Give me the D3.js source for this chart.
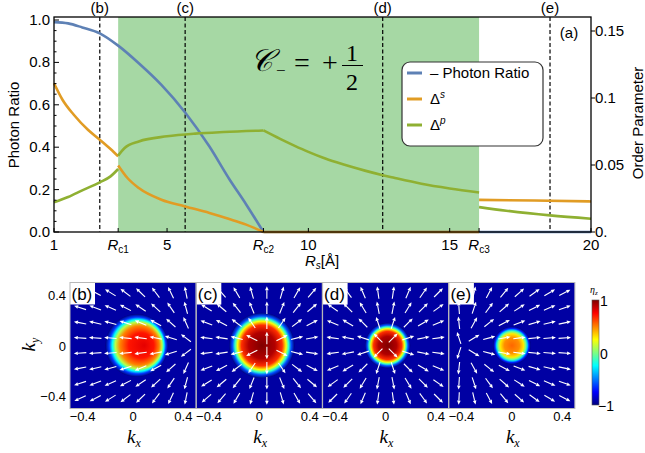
<!DOCTYPE html>
<html lang="en">
<head>
  <meta charset="UTF-8">
  <title>Photon ratio and order parameter</title>
  <script src="https://d3js.org/d3.v7.min.js"></script>
  <style>
    body { margin: 0; background: #fff; }
    svg { display: block; font-family: "Liberation Sans", Arial, sans-serif; }
  </style>
</head>
<body>
  <div id="chart"></div>
  <script>
    // ---- top panel data (x = R_s in Å) ----
    const rcValues = [3.27, 8.41, 16.04];
    const rcNames = ["c1", "c2", "c3"];
    const panelMarks = [2.62, 5.64, 12.63, 18.55];
    const panelNames = ["(b)", "(c)", "(d)", "(e)"];
    const xTickValues = [1, 3.27, 5, 8.41, 10, 15, 16.04, 20];
    const xTickLabels = ["1", "Rc1", "5", "Rc2", "10", "15", "Rc3", "20"];
    const leftTicks = [0, 0.2, 0.4, 0.6, 0.8, 1.0];
    const rightTicks = [0, 0.05, 0.1, 0.15];
    const rightTickLabels = ["0.", "0.05", "0.1", "0.15"];

    // photon ratio (left axis)
    const photonRatio = [
      [[1, 0.99], [1.5, 0.984], [2, 0.965], [2.62, 0.937], [3.27, 0.879], [4, 0.796], [4.8, 0.694],
       [5.64, 0.564], [6.5, 0.403], [7.2, 0.25], [7.8, 0.13], [8.41, 0]],
      [[8.41, 0], [20, 0]]
    ];
    // Δ^s (right axis)
    const deltaS = [
      [[1, 0.111], [1.3, 0.0987], [1.7, 0.0875], [2.2, 0.0763], [2.62, 0.0689], [3.0, 0.0619], [3.27, 0.0564]],
      [[3.27, 0.0497], [3.6, 0.0403], [4, 0.0328], [4.8, 0.0241], [5.64, 0.0191], [6.5, 0.0142],
       [7.2, 0.0097], [7.8, 0.0055], [8.41, 0]],
      [[8.41, 0], [16.04, 0]],
      [[16.04, 0.024], [18, 0.0235], [20, 0.0228]]
    ];
    // Δ^p (right axis)
    const deltaP = [
      [[1, 0.0222], [1.5, 0.0261], [2, 0.0311], [2.62, 0.0371], [3, 0.0415], [3.27, 0.047]],
      [[3.27, 0.057], [3.5, 0.0627], [4, 0.0676], [5, 0.0714], [6, 0.0734], [7, 0.0746], [8.41, 0.0758]],
      [[8.41, 0.0758], [9, 0.0695], [9.5, 0.0645], [10, 0.0598], [10.5, 0.0556], [11, 0.052], [12, 0.0458],
       [12.63, 0.0424], [13, 0.0406], [14, 0.036], [15, 0.0325], [16.04, 0.0295]],
      [[16.04, 0.0186], [17, 0.0159], [18.55, 0.0124], [20, 0.0099]]
    ];

    // ---- bottom panels: eta_z texture ----
    const blobCenterX = [0.03, 0.02, 0.016, 0.0];
    const blobCenterY = [0, 0, 0, 0];
    const blobRadius = [0.25, 0.26, 0.18, 0.15];
    const blobPeak = [0.8, 1.0, 1.0, 0.55];
    const kTicks = [-0.4, 0, 0.4];
    const arrowGrid = [-0.42, -0.30, -0.18, -0.06, 0.06, 0.18, 0.30, 0.42];
    // arrow directions in degrees (rows from top ky=0.42 down to ky=-0.42)
    const arrowsB = [
      [156, 152, 148, 143, 136, 127, 116, 101],
      [162, 159, 156, 152, 146, 137, 124, 105],
      [169, 167, 165, 162, 158, 151, 138, 114],
      [176, 176, 175, 174, 172, 169, 163, 143],
      [184, 184, 185, 186, 188, 191, 197, 217],
      [191, 193, 195, 198, 202, 209, 222, 246],
      [198, 201, 204, 208, 214, 223, 236, 255],
      [205, 208, 212, 217, 224, 233, 245, 259]
    ];
    const arrowsC = [
      [139, 131, 120, 106, 90, 74, 60, 49],
      [148, 140, 129, 112, 90, 68, 51, 40],
      [159, 153, 143, 124, 90, 56, 37, 27],
      [173, 171, 166, 153, 90, 27, 14, 10],
      [187, 189, 194, 207, 270, 333, 346, 351],
      [201, 207, 217, 236, 270, 304, 323, 333],
      [212, 220, 231, 248, 270, 292, 309, 320],
      [221, 229, 240, 254, 270, 286, 300, 311]
    ];
    const arrowsD = [
      [135, 126, 113, 98, 82, 67, 55, 45],
      [145, 135, 121, 101, 79, 59, 45, 36],
      [157, 149, 135, 108, 72, 45, 31, 23],
      [172, 169, 162, 135, 45, 18, 11, 8],
      [188, 191, 198, 225, 315, 342, 349, 352],
      [203, 211, 225, 252, 288, 315, 329, 337],
      [216, 225, 239, 259, 281, 301, 315, 325],
      [225, 235, 247, 262, 278, 293, 306, 315]
    ];
    const arrowsE = [
      [93, 77, 62, 51, 42, 36, 31, 27],
      [94, 72, 54, 41, 33, 27, 23, 20],
      [96, 61, 39, 28, 21, 17, 14, 12],
      [108, 31, 15, 10, 7, 6, 5, 4],
      [252, 329, 345, 350, 353, 354, 355, 356],
      [264, 299, 321, 332, 339, 343, 346, 348],
      [266, 288, 306, 319, 327, 333, 337, 340],
      [267, 283, 298, 309, 318, 324, 329, 333]
    ];
    const arrowSets = [arrowsB, arrowsC, arrowsD, arrowsE];
    const colorbarTicks = [1, 0, -1];
    const colorbarLabels = ["1", "0", "\u22121"];

    const blue = "#5E81B5", orange = "#E19C24", green = "#8FB032";

    const svg = d3.select("#chart").append("svg")
      .attr("width", 645).attr("height", 453);
    const defs = svg.append("defs");

    // ================= top chart =================
    const plot = { left: 54, right: 591, top: 17, bottom: 232 };
    const x = d3.scaleLinear().domain([1, 20]).range([plot.left, plot.right]);
    const yLeft = d3.scaleLinear().domain([0, 1]).range([plot.bottom, 20]);
    const yRight = d3.scaleLinear().domain([0, 0.15]).range([plot.bottom, 31]);

    // topological phase shading
    svg.append("rect")
      .attr("x", x(rcValues[0])).attr("y", plot.top)
      .attr("width", x(rcValues[2]) - x(rcValues[0]))
      .attr("height", plot.bottom - plot.top)
      .attr("fill", "#a6d8a4");

    // dashed markers
    svg.selectAll(".mark").data(panelMarks).enter().append("line")
      .attr("x1", d => x(d)).attr("x2", d => x(d))
      .attr("y1", plot.top).attr("y2", plot.bottom)
      .attr("stroke", "#000").attr("stroke-width", 1.2)
      .attr("stroke-dasharray", "4,2.5");
    svg.selectAll(".markLabel").data(panelMarks).enter().append("text")
      .attr("x", d => x(d)).attr("y", 13)
      .attr("text-anchor", "middle").attr("font-size", 15)
      .text((d, i) => panelNames[i]);

    const lineL = d3.line().x(d => x(d[0])).y(d => yLeft(d[1])).curve(d3.curveMonotoneX);
    const lineR = d3.line().x(d => x(d[0])).y(d => yRight(d[1])).curve(d3.curveMonotoneX);

    svg.selectAll(".photon").data(photonRatio).enter().append("path")
      .attr("d", lineL).attr("fill", "none").attr("stroke", blue).attr("stroke-width", 2.6);
    svg.selectAll(".ds").data(deltaS).enter().append("path")
      .attr("d", lineR).attr("fill", "none").attr("stroke", orange).attr("stroke-width", 2.6);
    svg.selectAll(".dp").data(deltaP).enter().append("path")
      .attr("d", lineR).attr("fill", "none").attr("stroke", green).attr("stroke-width", 2.6);

    // frame
    svg.append("rect")
      .attr("x", plot.left).attr("y", plot.top)
      .attr("width", plot.right - plot.left).attr("height", plot.bottom - plot.top)
      .attr("fill", "none").attr("stroke", "#000").attr("stroke-width", 1.3);

    // left axis ticks
    svg.selectAll(".lminor").data(d3.range(0, 1.001, 0.05)).enter().append("line")
      .attr("x1", plot.left).attr("x2", (d, i) => plot.left + (i % 4 === 0 ? 5 : 2.5))
      .attr("y1", d => yLeft(d)).attr("y2", d => yLeft(d))
      .attr("stroke", "#000").attr("stroke-width", 1);
    svg.selectAll(".lLabel").data(leftTicks).enter().append("text")
      .attr("x", plot.left - 4).attr("y", d => yLeft(d) + 5)
      .attr("text-anchor", "end").attr("font-size", 15)
      .text(d => d3.format(".1f")(d));

    // right axis ticks
    svg.selectAll(".rtick").data(rightTicks).enter().append("line")
      .attr("x1", plot.right).attr("x2", plot.right + 4)
      .attr("y1", d => yRight(d)).attr("y2", d => yRight(d))
      .attr("stroke", "#000").attr("stroke-width", 1);
    svg.selectAll(".rLabel").data(rightTicks).enter().append("text")
      .attr("x", plot.right + 4).attr("y", d => yRight(d) + 5)
      .attr("font-size", 15)
      .text((d, i) => rightTickLabels[i]);

    // bottom axis ticks
    svg.selectAll(".xtick").data(xTickValues).enter().append("line")
      .attr("x1", d => x(d)).attr("x2", d => x(d))
      .attr("y1", plot.bottom).attr("y2", plot.bottom - 4)
      .attr("stroke", "#000").attr("stroke-width", 1);
    const xLab = svg.selectAll(".xLabel").data(xTickValues).enter().append("text")
      .attr("x", d => x(d)).attr("y", 250)
      .attr("text-anchor", "middle").attr("font-size", 15);
    xLab.each(function (d, i) {
      const t = d3.select(this);
      const lab = xTickLabels[i];
      if (lab.startsWith("R")) {
        t.append("tspan").attr("font-style", "italic").text("R");
        t.append("tspan").attr("font-size", 10).attr("dy", 3).text(lab.slice(1));
      } else {
        t.text(lab);
      }
    });

    // axis titles
    const xTitle = svg.append("text").attr("x", 305).attr("y", 266).attr("font-size", 15);
    xTitle.append("tspan").attr("font-style", "italic").text("R");
    xTitle.append("tspan").attr("font-style", "italic").attr("font-size", 10).attr("dy", 3).text("s");
    xTitle.append("tspan").attr("dy", -3).text("[\u00C5]");

    svg.append("text")
      .attr("transform", "translate(19,125) rotate(-90)")
      .attr("text-anchor", "middle").attr("font-size", 15)
      .text("Photon Ratio");
    svg.append("text")
      .attr("transform", "translate(643,123) rotate(-90)")
      .attr("text-anchor", "middle").attr("font-size", 15)
      .text("Order Parameter");

    svg.append("text").attr("x", 569).attr("y", 38)
      .attr("text-anchor", "middle").attr("font-size", 15).text("(a)");

    // Chern number annotation
    const math = svg.append("g").attr("font-family", "'Liberation Serif', 'DejaVu Serif', serif");
    const cSym = math.append("text").attr("x", 250).attr("y", 71).attr("font-size", 31)
      .attr("font-style", "italic").text("\uD835\uDC9E");
    const cEnd = 250 + cSym.node().getComputedTextLength();
    math.append("text").attr("x", cEnd + 3).attr("y", 76).attr("font-size", 17).text("\u2212");
    math.append("text").attr("x", 294).attr("y", 72).attr("font-size", 28).text("=");
    math.append("text").attr("x", 322).attr("y", 72).attr("font-size", 28).text("+");
    math.append("text").attr("x", 352).attr("y", 61).attr("text-anchor", "middle").attr("font-size", 24).text("1");
    math.append("line").attr("x1", 342).attr("x2", 363).attr("y1", 65.5).attr("y2", 65.5)
      .attr("stroke", "#000").attr("stroke-width", 1);
    math.append("text").attr("x", 352).attr("y", 90).attr("text-anchor", "middle").attr("font-size", 24).text("2");

    // legend
    const legend = svg.append("g");
    legend.append("rect").attr("x", 402).attr("y", 62).attr("width", 141).attr("height", 84)
      .attr("rx", 8).attr("fill", "#fff").attr("stroke", "#333").attr("stroke-width", 1.2);
    const legendColors = [blue, orange, green];
    legendColors.forEach((c, i) => {
      const yy = 73 + i * 26;
      legend.append("line").attr("x1", 407).attr("x2", 422).attr("y1", yy).attr("y2", yy)
        .attr("stroke", c).attr("stroke-width", 3);
      const t = legend.append("text").attr("x", 430).attr("y", yy + 5).attr("font-size", 15);
      if (i === 0) t.text("\u2013 Photon Ratio");
      else {
        t.append("tspan").text("\u0394");
        t.append("tspan").attr("font-size", 10).attr("font-style", "italic").attr("dy", -6)
          .text(i === 1 ? "s" : "p");
      }
    });

    // ================= bottom panels =================
    const jet = d3.scaleLinear()
      .domain([-1, -0.75, -0.25, 0.25, 0.75, 1])
      .range(["#00007f", "#0000ff", "#00ffff", "#ffff00", "#ff0000", "#7f0000"]);
    const panelSize = 126;
    const panelTop = 282.5;
    const panelLeft = i => 70 + i * 126.3;
    const stopOffsets = [0, 0.4, 0.62, 0.74, 0.82, 0.9, 1];
    const stopFractions = [1, 0.95, 0.83, 0.62, 0.42, 0.2, 0];

    arrowSets.forEach((angles, i) => {
      const x0 = panelLeft(i);
      const kx = d3.scaleLinear().domain([-0.5, 0.5]).range([x0, x0 + panelSize]);
      const ky = d3.scaleLinear().domain([-0.5, 0.5]).range([panelTop + panelSize, panelTop]);
      const g = svg.append("g");

      defs.append("clipPath").attr("id", "clip" + i)
        .append("rect").attr("x", x0).attr("y", panelTop).attr("width", panelSize).attr("height", panelSize);
      const grad = defs.append("radialGradient").attr("id", "blob" + i)
        .attr("fx", i === 0 ? 0.62 : 0.5);
      stopOffsets.forEach((o, j) => {
        grad.append("stop").attr("offset", o)
          .attr("stop-color", jet(-1 + (blobPeak[i] + 1) * stopFractions[j]));
      });

      const inner = g.append("g").attr("clip-path", `url(#clip${i})`);
      inner.append("rect").attr("x", x0).attr("y", panelTop)
        .attr("width", panelSize).attr("height", panelSize).attr("fill", jet(-0.93));
      inner.append("circle")
        .attr("cx", kx(blobCenterX[i])).attr("cy", ky(blobCenterY[i]))
        .attr("r", kx(blobRadius[i]) - kx(0))
        .attr("fill", `url(#blob${i})`);

      const rowK = arrowGrid.slice().reverse();
      angles.forEach((row, ri) => row.forEach((a, ci) => {
        const cx = kx(arrowGrid[ci]), cy = ky(rowK[ri]);
        const t = a * Math.PI / 180;
        const dx = Math.cos(t), dy = -Math.sin(t);
        const L = 12.5, hl = 4, hw = 1.8;
        const tx = cx - dx * L / 2, ty = cy - dy * L / 2;
        const px = cx + dx * L / 2, py = cy + dy * L / 2;
        const bx = px - dx * hl, by = py - dy * hl;
        inner.append("path")
          .attr("d", `M${tx},${ty}L${bx},${by}`)
          .attr("stroke", "#fff").attr("stroke-width", 1.1);
        inner.append("path")
          .attr("d", `M${px},${py}L${bx - dy * hw},${by + dx * hw}L${bx + dy * hw},${by - dx * hw}Z`)
          .attr("fill", "#fff");
      }));

      // panel label
      inner.append("rect").attr("x", x0).attr("y", panelTop).attr("width", 25).attr("height", 22).attr("fill", "#fff");
      inner.append("text").attr("x", x0 + 1.5).attr("y", panelTop + 17).attr("font-size", 17)
        .text(panelNames[i]);

      g.append("rect").attr("x", x0).attr("y", panelTop)
        .attr("width", panelSize).attr("height", panelSize)
        .attr("fill", "none").attr("stroke", "#b8b8b8").attr("stroke-width", 1);

      // k_x ticks
      g.selectAll(".kx").data(kTicks).enter().append("text")
        .attr("x", d => kx(d)).attr("y", 421)
        .attr("text-anchor", "middle").attr("font-size", 13)
        .text(d => d === 0 ? "0" : d3.format(".1f")(d).replace("-", "\u2212"));
      const kxl = g.append("text").attr("x", kx(0) - 6).attr("y", 443)
        .attr("font-family", "'Liberation Serif', serif").attr("font-style", "italic").attr("font-size", 19);
      kxl.append("tspan").text("k");
      kxl.append("tspan").attr("font-size", 12).attr("dy", 4).text("x");

      if (i === 0) {
        g.selectAll(".ky").data(kTicks).enter().append("text")
          .attr("x", x0 - 4).attr("y", d => ky(d) + 5)
          .attr("text-anchor", "end").attr("font-size", 13)
          .text(d => d === 0 ? "0" : d3.format(".1f")(d).replace("-", "\u2212"));
        const kyl = g.append("text").attr("transform", `translate(35,${ky(0) + 6}) rotate(-90)`)
          .attr("font-family", "'Liberation Serif', serif").attr("font-style", "italic").attr("font-size", 19);
        kyl.append("tspan").text("k");
        kyl.append("tspan").attr("font-size", 12).attr("dy", 4).text("y");
      }
    });

    // colorbar
    const cb = d3.scaleLinear().domain([-1, 1]).range([405, 300]);
    const cbGrad = defs.append("linearGradient").attr("id", "cbGrad")
      .attr("x1", 0).attr("y1", 1).attr("x2", 0).attr("y2", 0);
    jet.domain().forEach(v => {
      cbGrad.append("stop").attr("offset", (v + 1) / 2).attr("stop-color", jet(v));
    });
    svg.append("rect").attr("x", 592).attr("y", cb(1)).attr("width", 7).attr("height", cb(-1) - cb(1))
      .attr("fill", "url(#cbGrad)").attr("stroke", "#555").attr("stroke-width", 0.6);
    svg.selectAll(".cbl").data(colorbarTicks).enter().append("text")
      .attr("x", (d, i) => i === 2 ? 598 : 600).attr("y", d => cb(d) + 6)
      .attr("font-size", 14)
      .text((d, i) => colorbarLabels[i]);
    const eta = svg.append("text").attr("x", 590).attr("y", 293)
      .attr("font-family", "'Liberation Serif', serif").attr("font-style", "italic").attr("font-size", 10);
    eta.append("tspan").text("\u03B7");
    eta.append("tspan").attr("font-size", 7).attr("dy", 2).text("z");
  </script>
</body>
</html>
